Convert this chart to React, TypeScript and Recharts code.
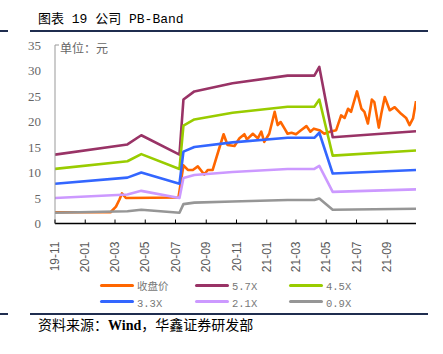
import React from 'react';
import { LineChart, Line, XAxis, YAxis } from 'recharts';

// ---- data ----
const bandDates = [
  '2019-11-01', '2020-03-26', '2020-04-23', '2020-07-09', '2020-07-17', '2020-08-08',
  '2020-10-24', '2021-02-12', '2021-04-07', '2021-04-17', '2021-05-14', '2021-10-29',
];
const band57 = [13.5, 15.5, 17.3, 13.5, 24.3, 25.9, 27.5, 29.0, 29.0, 30.7, 16.9, 18.1];
const band45 = [10.7, 12.2, 13.6, 10.7, 19.2, 20.4, 21.7, 22.9, 22.9, 24.3, 13.3, 14.3];
const band33 = [7.8, 9.0, 10.0, 7.8, 14.1, 15.0, 15.9, 16.8, 16.8, 17.8, 9.8, 10.5];
const band21 = [5.0, 5.7, 6.4, 5.0, 8.9, 9.5, 10.1, 10.7, 10.7, 11.3, 6.2, 6.7];
const band09 = [2.1, 2.4, 2.7, 2.1, 3.8, 4.1, 4.3, 4.6, 4.6, 4.9, 2.7, 2.9];

const closeDates = [
  '2019-11-01', '2020-02-21', '2020-03-03', '2020-03-10', '2020-03-15', '2020-03-23',
  '2020-07-07', '2020-07-17', '2020-07-26', '2020-08-05', '2020-08-15', '2020-08-28',
  '2020-09-04', '2020-09-14', '2020-09-28', '2020-10-06', '2020-10-14', '2020-10-28',
  '2020-11-07', '2020-11-17', '2020-11-22', '2020-12-04', '2020-12-14', '2020-12-21',
  '2020-12-27', '2021-01-06', '2021-01-17', '2021-01-23', '2021-01-29', '2021-02-06',
  '2021-02-12', '2021-02-20', '2021-03-01', '2021-03-11', '2021-03-22', '2021-03-30',
  '2021-04-06', '2021-04-17', '2021-04-27', '2021-05-08', '2021-05-21', '2021-05-31',
  '2021-06-07', '2021-06-14', '2021-06-20', '2021-07-02', '2021-07-11', '2021-07-17',
  '2021-07-24', '2021-08-01', '2021-08-06', '2021-08-15', '2021-08-20', '2021-08-27',
  '2021-09-06', '2021-09-16', '2021-09-29', '2021-10-09', '2021-10-16', '2021-10-23',
  '2021-10-29',
];
const closeValues = [
  2.2, 2.2, 3.3, 4.7, 5.9, 5.0,
  5.1, 11.4, 10.5, 10.5, 11.2, 9.6,
  10.5, 10.5, 15.0, 17.5, 15.4, 15.2,
  16.7, 17.5, 16.5, 17.6, 16.7, 18.0,
  16.0, 17.6, 21.9, 19.3, 19.9, 18.6,
  17.6, 17.8, 17.5, 18.3, 19.1, 18.0,
  18.6, 18.3, 17.6, 18.0, 18.3, 21.2,
  20.7, 22.5, 21.9, 25.9, 22.5, 21.9,
  19.6, 24.3, 23.8, 18.8, 21.5, 24.8,
  22.2, 22.8, 21.5, 20.7, 19.3, 20.6,
  24.0,
];

const xTickDates = [
  '2019-11-01', '2020-01-01', '2020-03-01', '2020-05-01', '2020-07-01', '2020-09-01',
  '2020-11-01', '2021-01-01', '2021-03-01', '2021-05-01', '2021-07-01', '2021-09-01',
];
const yTicks = [0, 5, 10, 15, 20, 25, 30, 35];
const domainStart = '2019-11-01';
const domainEnd = '2021-10-29';

const seriesNames = ['收盘价', '5.7X', '4.5X', '3.3X', '2.1X', '0.9X'];
const seriesColors = ['#FF6600', '#993366', '#99CC00', '#3366FF', '#CC99FF', '#969696'];

// ---- helpers ----
const toTs = (s: string) => {
  const [y, m, d] = s.split('-').map(Number);
  return Date.UTC(y, m - 1, d);
};
const fmtTick = (t: number) => {
  const d = new Date(t);
  const yy = String(d.getUTCFullYear()).slice(2);
  const mm = String(d.getUTCMonth() + 1).padStart(2, '0');
  return `${yy}-${mm}`;
};

const seriesData = [
  { dates: closeDates, values: closeValues },
  { dates: bandDates, values: band57 },
  { dates: bandDates, values: band45 },
  { dates: bandDates, values: band33 },
  { dates: bandDates, values: band21 },
  { dates: bandDates, values: band09 },
].map((s) => s.dates.map((d, i) => ({ t: toTs(d), v: s.values[i] })));

const XTick = (props: any) => {
  const { x, y, payload } = props;
  const ly = y + 18;
  return (
    <g>
      <line x1={x} x2={x} y1={y} y2={y - 4} stroke="#000" strokeWidth={1} />
      <text
        x={x}
        y={ly}
        dy="0.35em"
        textAnchor="end"
        transform={`rotate(-90, ${x}, ${ly})`}
        fontFamily="'Liberation Sans', Arial, sans-serif"
        fontSize={12}
        fill="#595959"
      >
        {fmtTick(payload.value)}
      </text>
    </g>
  );
};

const YTick = (props: any) => {
  const { x, y, payload } = props;
  return (
    <g>
      {payload.value === 35 ? (
        <line x1={x} x2={x + 4} y1={y} y2={y} stroke="#999" strokeWidth={1} />
      ) : null}
      <text
        x={x - 14}
        y={y}
        dy="0.35em"
        textAnchor="end"
        fontFamily="'Liberation Serif', 'Times New Roman', serif"
        fontSize={13}
        fill="#666"
      >
        {payload.value}
      </text>
    </g>
  );
};

const legendCols = [100, 195, 289];
const legendRows = [285, 301.5];

export default function App() {
  return (
    <div
      style={{
        position: 'absolute',
        left: 0,
        top: 0,
        width: 443,
        height: 354,
        background: '#fff',
        overflow: 'hidden',
      }}
    >
      {/* title */}
      <div
        style={{
          position: 'absolute',
          left: 38,
          top: 11,
          fontFamily: "'Liberation Mono', 'Noto Sans CJK SC', monospace",
          fontSize: 13,
          color: '#000',
          whiteSpace: 'nowrap',
          lineHeight: '18px',
        }}
      >
        图表 19 公司 PB-Band
      </div>
      <div style={{ position: 'absolute', left: 0, top: 30, width: 8, height: 2, background: '#1F2D4F' }} />
      <div style={{ position: 'absolute', left: 30, top: 30, width: 398, height: 2, background: '#1F2D4F' }} />

      {/* unit */}
      <div
        style={{
          position: 'absolute',
          left: 60,
          top: 40,
          fontFamily: "'Noto Sans CJK SC', sans-serif",
          fontSize: 12,
          color: '#666',
          lineHeight: '16px',
          whiteSpace: 'nowrap',
        }}
      >
        单位：元
      </div>

      <div style={{ position: 'absolute', left: 0, top: 0 }}>
        <LineChart width={443} height={354} margin={{ top: 45, right: 27, bottom: 100, left: 0 }}>
          <XAxis
            dataKey="t"
            type="number"
            domain={[toTs(domainStart), toTs(domainEnd)]}
            ticks={xTickDates.map(toTs)}
            allowDataOverflow
            height={30.5}
            tickSize={0}
            tickMargin={0}
            tickLine={false}
            axisLine={{ stroke: '#000', strokeWidth: 1.5 }}
            tick={<XTick />}
            interval={0}
          />
          <YAxis
            type="number"
            domain={[0, 35]}
            ticks={yTicks}
            width={55}
            tickSize={0}
            tickMargin={0}
            tickLine={false}
            axisLine={{ stroke: '#999', strokeWidth: 1 }}
            tick={<YTick />}
            interval={0}
          />
          {seriesData.map((d, i) => (
            <Line
              key={seriesNames[i]}
              name={seriesNames[i]}
              data={d}
              dataKey="v"
              type="linear"
              stroke={seriesColors[i]}
              strokeWidth={2.6}
              strokeLinejoin="round"
              dot={false}
              activeDot={false}
              isAnimationActive={false}
            />
          ))}
        </LineChart>
      </div>

      {/* legend */}
      {seriesNames.map((name, i) => {
        const col = legendCols[i % 3];
        const row = legendRows[Math.floor(i / 3)];
        return (
          <div key={name}>
            <div
              style={{
                position: 'absolute',
                left: col,
                top: row - 1.5,
                width: 34,
                height: 3,
                borderRadius: 1.5,
                background: seriesColors[i],
              }}
            />
            <div
              style={{
                position: 'absolute',
                left: col + 37,
                top: row - 5,
                fontFamily: "'Liberation Mono', 'Noto Sans CJK SC', monospace",
                fontSize: 10.5,
                color: '#777',
                lineHeight: '14px',
                whiteSpace: 'nowrap',
              }}
            >
              {name}
            </div>
          </div>
        );
      })}

      {/* bottom rule and source */}
      <div style={{ position: 'absolute', left: 0, top: 313, width: 8, height: 2, background: '#1F2D4F' }} />
      <div style={{ position: 'absolute', left: 30, top: 313, width: 398, height: 2, background: '#1F2D4F' }} />
      <div
        style={{
          position: 'absolute',
          left: 38,
          top: 317,
          fontFamily: "'Liberation Serif', 'Noto Sans CJK SC', serif",
          fontSize: 14,
          color: '#000',
          lineHeight: '18px',
          whiteSpace: 'nowrap',
        }}
      >
        资料来源：<b>Wind</b>，华鑫证券研发部
      </div>
    </div>
  );
}
